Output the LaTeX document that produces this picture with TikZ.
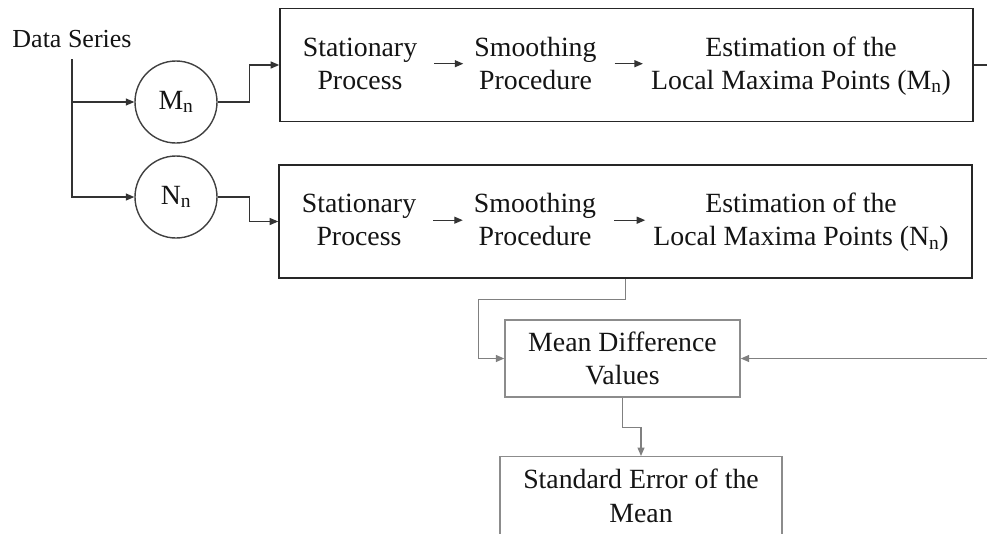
\documentclass[tikz,border=0pt]{standalone}
\usepackage{fontspec}
\setmainfont{Liberation Serif}
\usetikzlibrary{arrows.meta,calc}
\begin{document}
\begin{tikzpicture}[x=1pt,y=-1pt,
  txt/.style={font=\fontsize{27.8}{33}\selectfont, align=center, inner sep=0pt,
              text height=52pt, text depth=1pt, text=black!92},
  bigbox/.style={draw=black!85, line width=1.6pt, minimum width=693pt,
                 minimum height=113pt, inner sep=0pt},
  smallbox/.style={draw=black!45, line width=1.4pt},
  stage/.style={circle, draw=black!75, line width=1.4pt, minimum size=82pt,
                inner sep=0pt, font=\fontsize{27.8}{33}\selectfont, text=black!92},
  link/.style={draw=black!80, line width=1.2pt},
  glink/.style={draw=black!50, line width=1.3pt},
  tip/.style={-{Triangle[length=8.5pt,width=7pt]}},
]
\useasboundingbox (0,0) rectangle (987,533);
\clip (0,0) rectangle (987,533);

% input and the two branches
\node[font=\fontsize{26}{31}\selectfont, anchor=base, inner sep=0pt, text=black!92]
  (ds) at (72,47.7) {Data Series};
\coordinate (dsp) at (72,59);
\node[stage] (cM) at (176,102) {M\textsubscript{n}};
\node[stage] (cN) at (176,197) {N\textsubscript{n}};

% processing chains
\node[bigbox] (boxM) at (626.5,65) {};
\node[bigbox] (boxN) at (625.5,221.5) {};

\node[txt] (stM) at (360,63.7) {Stationary\\Process};
\node[txt] (smM) at (535.5,63.7) {Smoothing\\Procedure};
\node[txt] (esM) at (801,63.7) {Estimation of the\\Local Maxima Points (M\textsubscript{n})};

\node[txt] (stN) at (359,220.2) {Stationary\\Process};
\node[txt] (smN) at (535,220.2) {Smoothing\\Procedure};
\node[txt] (esN) at (801,220.2) {Estimation of the\\Local Maxima Points (N\textsubscript{n})};

% results
\node[smallbox, txt, minimum width=235pt, minimum height=77pt]
  (mean) at (622.5,358.5) {Mean Difference\\Values};
\node[smallbox, txt, font=\fontsize{27.8}{34}\selectfont, text height=53pt, text depth=32pt,
      minimum width=282pt, minimum height=110pt, anchor=north]
  (sem) at (641,456) {Standard Error of the\\Mean};

% connectors
\draw[link,tip] (dsp) |- (cM.west);
\draw[link,tip] (dsp) |- (cN.west);
\draw[link,tip] (cM.east) -- ++(32,0) |- (boxM.west);
\draw[link,tip] (cN.east) -- ++(32,0) |- (boxN.west);

\draw[link,tip,shorten <=17pt,shorten >=11pt] (stM.east) -- (smM.west);
\draw[link,tip,shorten <=18pt,shorten >=8pt] (smM.east) -- (esM.west);
\draw[link,tip,shorten <=17pt,shorten >=11pt] (stN.east) -- (smN.west);
\draw[link,tip,shorten <=18pt,shorten >=8pt] (smN.east) -- (esN.west);

\coordinate (outM) at (987,65);
\draw[link] (boxM.east) -- (outM);

\coordinate (inMean) at (987,358.5);
\draw[glink,tip] (inMean) -- (mean.east);
\draw[glink,tip] (boxN.south) -- ++(0,21) -| ($(mean.west)+(-26,0)$) -- (mean.west);
\draw[glink,tip] (mean.south) -- ++(0,30) -| (sem.north);
\end{tikzpicture}
\end{document}
